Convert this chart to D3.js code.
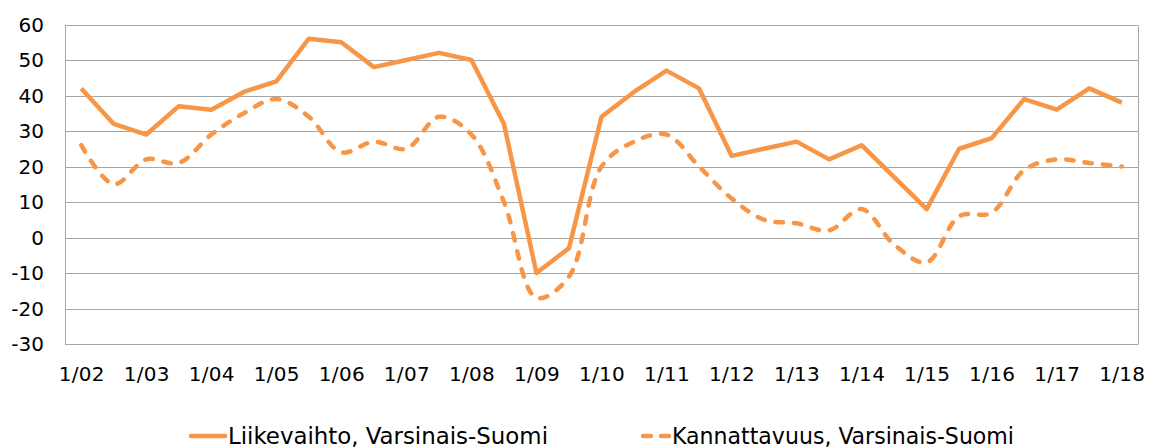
<!DOCTYPE html>
<html>
<head>
<meta charset="utf-8">
<script src="https://cdn.jsdelivr.net/npm/d3@7"></script>
<style>
  body { margin: 0; background: #fff; }
  svg { display: block; }
</style>
</head>
<body>
<div id="canvas"></div>
<script>
// half-year points from 1/02 to 1/18
var periods = ["1/02","7/02","1/03","7/03","1/04","7/04","1/05","7/05","1/06","7/06",
  "1/07","7/07","1/08","7/08","1/09","7/09","1/10","7/10","1/11","7/11",
  "1/12","7/12","1/13","7/13","1/14","7/14","1/15","7/15","1/16","7/16",
  "1/17","7/17","1/18"];
var tickLabels = ["1/02","1/03","1/04","1/05","1/06","1/07","1/08","1/09","1/10",
  "1/11","1/12","1/13","1/14","1/15","1/16","1/17","1/18"];
var yTicks = [-30,-20,-10,0,10,20,30,40,50,60];

var liikevaihto = [42,32,29,37,36,41,44,56,55,48,
  50,52,50,32,-10,-3,34,41,47,42,
  23,25,27,22,26,17,8,25,28,39,
  36,42,38];
var kannattavuus = [26,15,22,21,29,35,39,34,24,27,
  25,34,29,10,-17,-11,20,27,29,20,
  11,5,4,2,8,-2,-7,6,7,19,
  22,21,20];

var seriesNames = ["Liikevaihto, Varsinais-Suomi", "Kannattavuus, Varsinais-Suomi"];

var W = 1163, H = 448;
var m = {t:24.5, r:25, b:104, l:65};
var color = "#F79646";
var font = "'DejaVu Sans', Verdana, sans-serif";

var svg = d3.select('#canvas').append('svg')
    .attr('width', W)
    .attr('height', H);

var x = d3.scalePoint()
    .domain(periods)
    .range([m.l, W - m.r])
    .padding(0.5);

var y = d3.scaleLinear()
    .domain([-30, 60])
    .range([H - m.b, m.t]);

// gridlines
svg.append('g').selectAll('line')
    .data(yTicks)
  .enter().append('line')
    .attr('x1', m.l).attr('x2', W - m.r)
    .attr('y1', function(d){ return Math.round(y(d)) + 0.5; })
    .attr('y2', function(d){ return Math.round(y(d)) + 0.5; })
    .attr('stroke', '#a6a6a6')
    .attr('stroke-width', 1);

// plot area sides
svg.append('line')
    .attr('x1', m.l + 0.5).attr('x2', m.l + 0.5)
    .attr('y1', Math.round(y(60)) + 0.5).attr('y2', Math.round(y(-30)) + 0.5)
    .attr('stroke', '#a6a6a6');
svg.append('line')
    .attr('x1', W - m.r + 0.5).attr('x2', W - m.r + 0.5)
    .attr('y1', Math.round(y(60)) + 0.5).attr('y2', Math.round(y(-30)) + 0.5)
    .attr('stroke', '#a6a6a6');

// y labels
svg.append('g').selectAll('text')
    .data(yTicks)
  .enter().append('text')
    .attr('x', 44)
    .attr('y', function(d){ return y(d); })
    .attr('dy', '0.36em')
    .attr('text-anchor', 'end')
    .style('font-family', font)
    .style('font-size', '20px')
    .attr('fill', '#000')
    .text(function(d){ return d; });

// x labels
var xAxis = d3.axisBottom(x)
    .tickValues(tickLabels)
    .tickSize(0)
    .tickPadding(0);
var gx = svg.append('g')
    .attr('transform', 'translate(0,' + 365 + ')')
    .call(xAxis);
gx.select('.domain').remove();
gx.selectAll('text')
    .attr('dy', '0.8em')
    .style('font-family', font)
    .style('font-size', '20px')
    .style('letter-spacing', '0.3px')
    .attr('fill', '#000');

// lines
var lineStraight = d3.line()
    .x(function(d, i){ return x(periods[i]); })
    .y(function(d){ return y(d); });
var lineSmooth = d3.line()
    .x(function(d, i){ return x(periods[i]); })
    .y(function(d){ return y(d); })
    .curve(d3.curveCatmullRom.alpha(0.5));

svg.append('path')
    .datum(kannattavuus)
    .attr('d', lineSmooth)
    .attr('fill', 'none')
    .attr('stroke', color)
    .attr('stroke-width', 4.5)
    .attr('stroke-linecap', 'round')
    .attr('stroke-linejoin', 'round')
    .attr('stroke-dasharray', '7.5,11');

svg.append('path')
    .datum(liikevaihto)
    .attr('d', lineStraight)
    .attr('fill', 'none')
    .attr('stroke', color)
    .attr('stroke-width', 4.5)
    .attr('stroke-linejoin', 'round');

// legend
var legY = 436;
var leg = svg.append('g');
leg.append('line')
    .attr('x1', 191).attr('x2', 225)
    .attr('y1', legY).attr('y2', legY)
    .attr('stroke', color).attr('stroke-width', 4.5)
    .attr('stroke-linecap', 'round');
leg.append('text')
    .attr('x', 228).attr('y', legY)
    .attr('dy', '0.36em')
    .attr('textLength', 320)
    .attr('lengthAdjust', 'spacingAndGlyphs')
    .style('font-family', "'DejaVu Sans Condensed', 'DejaVu Sans', sans-serif")
    .style('font-size', '23px')
    .text(seriesNames[0]);

leg.append('line')
    .attr('x1', 643).attr('x2', 669)
    .attr('y1', legY).attr('y2', legY)
    .attr('stroke', color).attr('stroke-width', 4.5)
    .attr('stroke-linecap', 'round')
    .attr('stroke-dasharray', '8,10');
leg.append('text')
    .attr('x', 672).attr('y', legY)
    .attr('dy', '0.36em')
    .attr('textLength', 342)
    .attr('lengthAdjust', 'spacingAndGlyphs')
    .style('font-family', "'DejaVu Sans Condensed', 'DejaVu Sans', sans-serif")
    .style('font-size', '23px')
    .text(seriesNames[1]);
</script>
</body>
</html>
